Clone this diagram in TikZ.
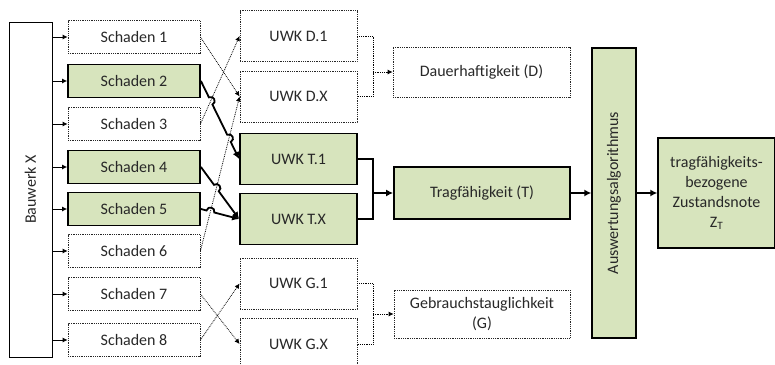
\documentclass[tikz,border=0pt]{standalone}
\usepackage{fontspec}
\setmainfont{Carlito}
\usetikzlibrary{arrows.meta,calc,intersections}
\definecolor{grn}{RGB}{215,228,189}
\definecolor{txt}{RGB}{40,40,40}
\begin{document}
\begin{tikzpicture}[x=1pt,y=-1pt,
  font=\fontsize{16}{20}\selectfont,
  box/.style={draw, align=center, inner sep=0pt, text=txt},
  dbox/.style={box, densely dotted, line width=0.8pt, draw=black!85},
  gbox/.style={box, fill=grn, line width=1.8pt},
  sbox/.style={minimum width=132, minimum height=33},
  ubox/.style={minimum width=117, minimum height=51},
  thinarr/.style={-{Latex[length=5pt,width=5pt]}, line width=0.8pt},
  dotarr/.style={-{Latex[length=5pt,width=5pt]}, densely dotted, line width=0.8pt},
  thickarr/.style={-{Latex[length=7pt,width=7pt]}, line width=1.8pt},
  bump/.style={bend left=90, looseness=1.7},
]
\useasboundingbox (0,0) rectangle (775,364);
\clip (0,0) rectangle (775,364);

% Bauwerk
\node[box, line width=0.9pt, minimum width=43, minimum height=335] (bw) at (30.5,189.5) {\rotatebox{90}{Bauwerk X}};

% Schaden
\node[dbox, sbox] (s1) at (134,37) {Schaden 1};
\node[gbox, sbox] (s2) at (134,81) {Schaden 2};
\node[dbox, sbox] (s3) at (134,124) {Schaden 3};
\node[gbox, sbox] (s4) at (134,167) {Schaden 4};
\node[gbox, sbox] (s5) at (134,209) {Schaden 5};
\node[dbox, sbox] (s6) at (134,251) {Schaden 6};
\node[dbox, sbox] (s7) at (134,294) {Schaden 7};
\node[dbox, sbox] (s8) at (134,340) {Schaden 8};

\foreach \s in {s1,s2,s3,s4,s5,s6,s7,s8}
  \draw[thinarr] (bw.east |- \s.west) -- (\s.west);

% UWK
\node[dbox, ubox] (d1) at (298.5,36) {UWK D.1};
\node[dbox, ubox] (dx) at (298.5,96.5) {UWK D.X};
\node[gbox, ubox] (t1) at (298.5,159) {UWK T.1};
\node[gbox, ubox] (tx) at (298.5,219) {UWK T.X};
\node[dbox, ubox] (g1) at (298.5,283.5) {UWK G.1};
\node[dbox, ubox] (gx) at (298.5,344) {UWK G.X};

% categories
\node[dbox, minimum width=177, minimum height=50] (dau) at (481.5,72) {Dauerhaftigkeit (D)};
\node[gbox, minimum width=176, minimum height=52] (trag) at (482,193) {Tragfähigkeit (T)};
\node[dbox, minimum width=176, minimum height=48] (geb) at (482,314) {Gebrauchstauglichkeit\\(G)};

\node[box, fill=grn, line width=1.4pt, minimum width=44, minimum height=290] (aw) at (614,193) {\rotatebox{90}{Auswertungsalgorithmus}};
\node[box, fill=grn, line width=1.4pt, minimum width=117, minimum height=110] (zt) at (716.5,193) {tragfähigkeits-\\bezogene\\Zustandsnote\\Z\textsubscript{T}};

% dotted connectors Schaden -> UWK
\draw[dotarr] (s1.east) -- (dx.west);
\draw[dotarr] (s3.east) -- (d1.west);
\draw[dotarr] (s6.east) -- (dx.west);
\draw[dotarr] (s7.east) -- (gx.west);
\draw[dotarr] (s8.east) -- (g1.west);

% solid connectors with line jumps
\path[name path=p3] (s3.east) -- (d1.west);
\path[name path=p6] (s6.east) -- (dx.west);
\path[name path=p2] (s2.east) -- (t1.west);
\path[name path=p4] (s4.east) -- (tx.west);
\path[name path=p5] (s5.east) -- (tx.west);
\path[name intersections={of=p2 and p3, by=i23}];
\path[name intersections={of=p2 and p6, by=i26}];
\path[name intersections={of=p4 and p6, by=i46}];
\path[name intersections={of=p5 and p6, by=i56}];

\draw[thickarr] (s2.east) -- ($(i23)!4pt!(s2.east)$) to[bump] ($(i23)!4pt!(t1.west)$)
  -- ($(i26)!4pt!(s2.east)$) to[bump] ($(i26)!4pt!(t1.west)$) -- (t1.west);
\draw[thickarr] (s4.east) -- ($(i46)!4pt!(s4.east)$) to[bump] ($(i46)!4pt!(tx.west)$) -- (tx.west);
\draw[thickarr] (s5.east) -- ($(i56)!4pt!(s5.east)$) to[bump] ($(i56)!4pt!(tx.west)$) -- (tx.west);

% brackets
\coordinate (bD) at (373,72);
\coordinate (bT) at (373,193);
\coordinate (bG) at (373,314);
\draw[densely dotted, line width=0.8pt] (d1.east) -| (bD) |- (dx.east);
\draw[dotarr] (bD) -- (dau.west);
\draw[line width=1.8pt] (t1.east) -| (bT) |- (tx.east);
\draw[thickarr] (bT) -- (trag.west);
\draw[densely dotted, line width=0.8pt] (g1.east) -| (bG) |- (gx.east);
\draw[dotarr] (bG) -- (geb.west);

\draw[thickarr, line width=1.5pt] (trag.east) -- (aw.west);
\draw[thickarr, line width=1.5pt] (aw.east) -- (zt.west);
\end{tikzpicture}
\end{document}
